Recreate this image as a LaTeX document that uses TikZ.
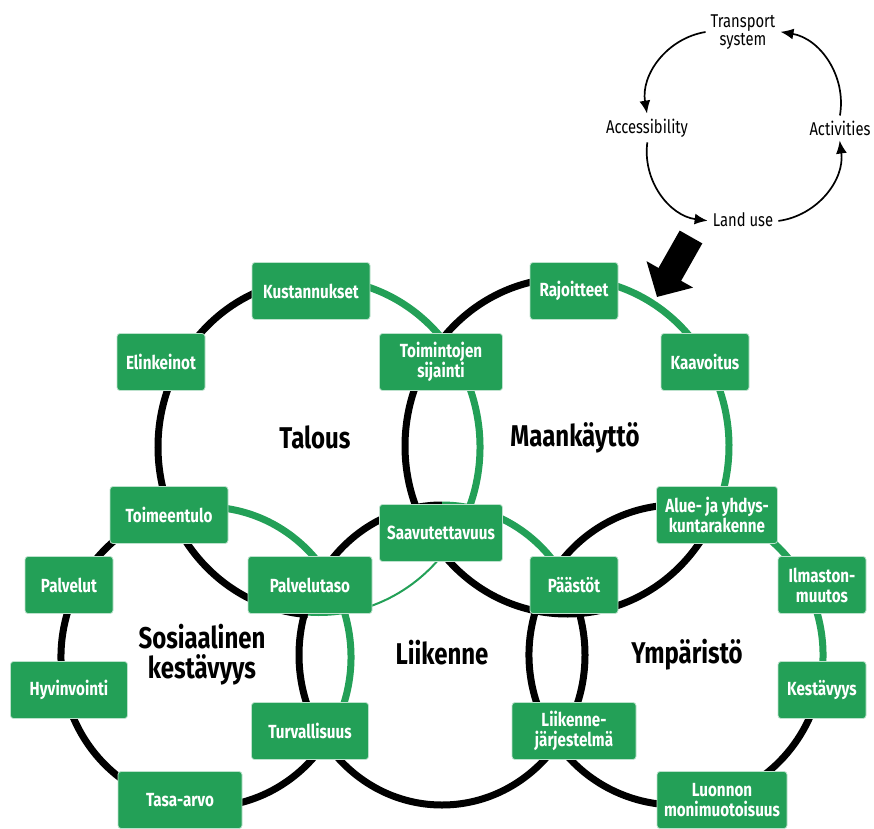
\documentclass[tikz,border=0pt]{standalone}
\usepackage{fontspec}
\setmainfont{Fira Sans}[FakeStretch=0.8]
\usetikzlibrary{arrows.meta}
\definecolor{leaf}{HTML}{23A057}

\begin{document}
\begin{tikzpicture}[x=1pt,y=1pt,
    box/.style={draw=white!70!leaf,line width=0.8pt,fill=leaf,rounded corners=3pt,text=white,font=\bfseries\fontsize{19}{20}\selectfont,align=center,minimum height=57pt,minimum width=88pt,inner sep=2pt},
    zone/.style={font=\bfseries\fontsize{30}{30}\selectfont,align=center},
    cyc/.style={font=\fontsize{18.5}{18}\selectfont,align=center,inner sep=5pt},
    blk/.style={line width=7pt,black},
    grn/.style={line width=7pt,leaf},
    fine/.style={line width=2pt,leaf},
    arr/.style={-{Latex[length=13pt,width=11pt]},line width=1.7pt,bend right=45},
    bigarr/.style={line width=26pt,-{Triangle[length=26pt,width=52pt]}}
]
\useasboundingbox (0,0) rectangle (874,828);

% centres of the five rings
\coordinate (tal) at (319,381);
\coordinate (maa) at (567,382);
\coordinate (sos) at (206,171);
\coordinate (lii) at (442,173);
\coordinate (ymp) at (676,173);

% Talous
\draw[blk] (tal) ++(93:161pt and 168pt) arc[start angle=93,end angle=266,x radius=161pt,y radius=168pt];
\draw[fine] (tal) ++(-94:161pt and 168pt) arc[start angle=-94,end angle=-34,x radius=161pt,y radius=168pt];
\draw[grn] (tal) ++(-34:161pt and 168pt) arc[start angle=-34,end angle=93,x radius=161pt,y radius=168pt];
% Maankaytto
\draw[blk] (maa) ++(87:162pt and 168pt) arc[start angle=87,end angle=336,x radius=162pt,y radius=168pt];
\draw[grn] (maa) ++(-24:162pt and 168pt) arc[start angle=-24,end angle=87,x radius=162pt,y radius=168pt];
% Sosiaalinen kestavyys
\draw[blk] (sos) ++(105:145pt and 150pt) arc[start angle=105,end angle=325,x radius=145pt,y radius=150pt];
\draw[grn] (sos) ++(-35:145pt and 150pt) arc[start angle=-35,end angle=105,x radius=145pt,y radius=150pt];
% Liikenne
\draw[blk] (lii) ++(90:143pt and 150pt) arc[start angle=90,end angle=387,x radius=143pt,y radius=150pt];
\draw[grn] (lii) ++(27:143pt and 150pt) arc[start angle=27,end angle=90,x radius=143pt,y radius=150pt];
% Ymparisto
\draw[blk] (ymp) ++(73:147pt and 150pt) arc[start angle=73,end angle=347,x radius=147pt,y radius=150pt];
\draw[grn] (ymp) ++(-13:147pt and 150pt) arc[start angle=-13,end angle=73,x radius=147pt,y radius=150pt];

\node[zone] (talous) at (315,391) {Talous};
\node[zone] (maank) at (575,390) {Maankäyttö};
\node[zone] (sosiaal) at (202,173) {Sosiaalinen\\kestävyys};
\node[zone] (liik) at (442,175) {Liikenne};
\node[zone] (ympar) at (687,173) {Ympäristö};

\node[box,minimum width=118pt] (kust) at (311,537) {Kustannukset};
\node[box] (elin) at (161,466) {Elinkeinot};
\node[box,minimum width=123pt] (toim) at (441,466) {Toimintojen\\sijainti};
\node[box] (rajo) at (574,537) {Rajoitteet};
\node[box] (kaav) at (705,466) {Kaavoitus};
\node[box,minimum width=118pt] (toimeen) at (169,313) {Toimeentulo};
\node[box,minimum width=123pt] (saav) at (441,295) {Saavutettavuus};
\node[box,minimum width=121pt] (alue) at (717,313) {Alue- ja yhdys-\\kuntarakenne};
\node[box] (palv) at (69,243) {Palvelut};
\node[box,minimum width=124pt] (palvtaso) at (310,243) {Palvelutaso};
\node[box] (paast) at (574,243) {Päästöt};
\node[box] (ilma) at (822,243) {Ilmaston-\\muutos};
\node[box,minimum width=117pt] (hyvin) at (69,138) {Hyvinvointi};
\node[box] (kest) at (822,138) {Kestävyys};
\node[box,minimum width=117pt] (turva) at (310,97) {Turvallisuus};
\node[box,minimum width=124pt] (liikj) at (574,97) {Liikenne-\\järjestelmä};
\node[box,minimum width=124pt] (tasa) at (180,28) {Tasa-arvo};
\node[box,minimum width=130pt] (luon) at (722,28) {Luonnon\\monimuotoisuus};

% the small cycle
\node[cyc] (ts) at (743,796) {Transport\\system};
\node[cyc] (acc) at (647,700) {Accessibility};
\node[cyc] (act) at (840,700) {Activities};
\node[cyc] (lu) at (743,608) {Land use};

\draw[arr] (ts) to (acc);
\draw[arr] (acc) to (lu);
\draw[arr] (lu) to (act);
\draw[arr] (act) to (ts);

\coordinate (bigS) at (691,591);
\coordinate (bigE) at (657,531);
\draw[bigarr] (bigS) -- (bigE);
\end{tikzpicture}
\end{document}
